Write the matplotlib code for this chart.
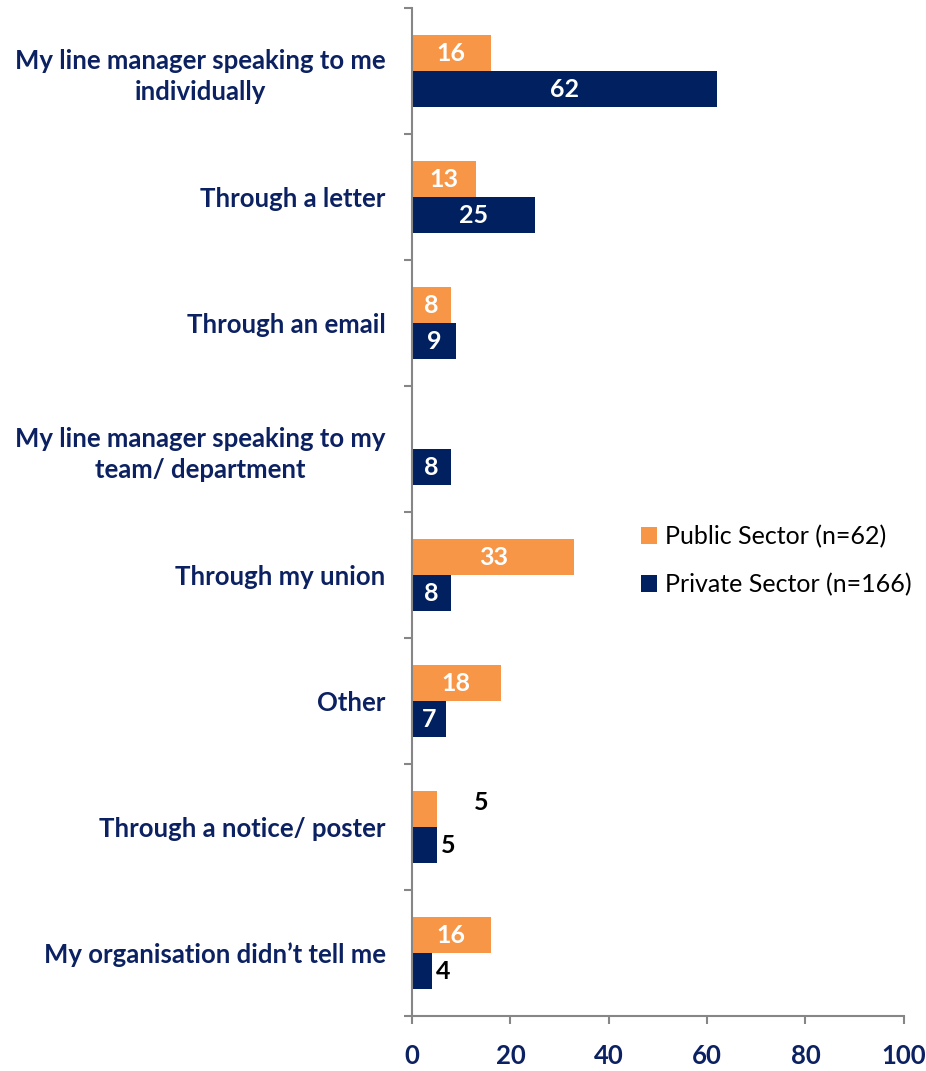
import matplotlib
matplotlib.use('Agg')
import matplotlib.pyplot as plt
import numpy as np

categories = ['My line manager speaking to me\nindividually',
              'Through a letter',
              'Through an email',
              'My line manager speaking to my\nteam/ department',
              'Through my union',
              'Other',
              'Through a notice/ poster',
              'My organisation didn\u2019t tell me']
public = [16, 13, 8, 0, 33, 18, 5, 16]
private = [62, 25, 9, 8, 8, 7, 5, 4]
series_names = ['Public Sector (n=62)', 'Private Sector (n=166)']
x_ticks = [0, 20, 40, 60, 80, 100]

ORANGE = '#F79646'
NAVY = '#002060'
TEXT = '#0B2161'
GREY = '#868686'

plt.rcParams['font.family'] = ['Lato', 'DejaVu Sans']

fig = plt.figure(figsize=(9.26, 10.71), dpi=100)
ax = fig.add_axes([0.445, 0.0513, 0.531, 0.9412])

y = np.arange(len(categories))
h = 0.286
b1 = ax.barh(y - h / 2, public, height=h, color=ORANGE, label=series_names[0])
b2 = ax.barh(y + h / 2, private, height=h, color=NAVY, label=series_names[1])

ax.set_xlim(0, 100)
ax.set_ylim(len(categories) - 0.5, -0.5)

# value labels: inside the bar when it fits, otherwise just past the end
def label_bars(bars, vals, shift=None):
    for i, (bar, v) in enumerate(zip(bars, vals)):
        if v == 0:
            continue
        cy = bar.get_y() + bar.get_height() / 2
        if v >= 7:
            ax.text(v / 2, cy, str(v), ha='center', va='center',
                    color='white', fontsize=18, fontweight='bold')
        else:
            off = (shift or {}).get(i, (4, 0))
            ax.annotate(str(v), (v, cy), xytext=off, textcoords='offset pixels',
                        ha='left', va='center', color='black',
                        fontsize=18, fontweight='bold')

# the public "5" label sits away from its bar
label_bars(b1, public, shift={6: (37, 7)})
label_bars(b2, private)

ax.set_yticks(np.arange(len(categories) + 1) - 0.5, minor=True)
ax.set_yticks(y)
ax.set_yticklabels(categories, fontsize=18.5, fontweight='bold', color=TEXT,
                   ha='right', multialignment='center', linespacing=1.35)
ax.tick_params(axis='y', which='major', length=0, pad=19)
ax.tick_params(axis='y', which='minor', length=6, color=GREY, width=1.5, direction='out')

ax.set_xticks(x_ticks)
ax.set_xticklabels([str(t) for t in x_ticks], fontsize=18.5, fontweight='bold', color=TEXT)
ax.tick_params(axis='x', length=6, color=GREY, width=1.5, direction='out', pad=14)

for s in ['top', 'right']:
    ax.spines[s].set_visible(False)
for s in ['left', 'bottom']:
    ax.spines[s].set_color(GREY)
    ax.spines[s].set_linewidth(1.5)

leg = fig.legend(handles=[b1, b2], loc='upper left', bbox_to_anchor=(0.668, 0.531),
                 frameon=False, fontsize=18, handlelength=0.65, handleheight=0.65,
                 handletextpad=0.3, labelspacing=1.0)

fig.savefig('out.png', dpi=100)
